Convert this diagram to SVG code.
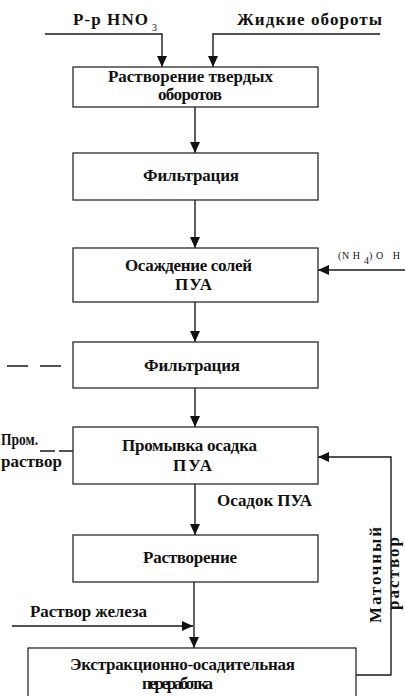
<svg xmlns="http://www.w3.org/2000/svg" width="405" height="696" viewBox="0 0 405 696">
<style>
.box{fill:#fff;stroke:#2a2a2a;stroke-width:1.3}
.t{font-family:"Liberation Serif","Times New Roman",serif;font-weight:bold;font-size:17px;fill:#111}
.s{font-family:"Liberation Serif","Times New Roman",serif;font-size:10px;fill:#111}
.c{fill:none;stroke:#1a1a1a;stroke-width:1.4}
.d{fill:none;stroke:#1a1a1a;stroke-width:1.4}
</style>
<defs>
<marker id="ah" markerUnits="userSpaceOnUse" markerWidth="11" markerHeight="10" refX="11" refY="5" orient="auto">
<path d="M0,0 L11,5 L0,10 z" fill="#111"/>
</marker>
</defs>
<rect width="405" height="696" fill="#fff"/>
<g id="connectors">
<polyline class="c" points="45,34 162,34 162,67" marker-end="url(#ah)"/>
<polyline class="c" points="380,34 213,34 213,67" marker-end="url(#ah)"/>
<line class="c" x1="195" y1="107" x2="195" y2="153" marker-end="url(#ah)"/>
<line class="c" x1="195" y1="200" x2="195" y2="248" marker-end="url(#ah)"/>
<line class="c" x1="405" y1="270" x2="318" y2="270" marker-end="url(#ah)"/>
<line class="c" x1="195" y1="302" x2="195" y2="342" marker-end="url(#ah)"/>
<line class="c" x1="195" y1="388" x2="195" y2="427" marker-end="url(#ah)"/>
<line class="c" x1="195" y1="484" x2="195" y2="535" marker-end="url(#ah)"/>
<line class="c" x1="194" y1="582" x2="194" y2="648" marker-end="url(#ah)"/>
<line class="c" x1="12" y1="626" x2="193" y2="626" marker-end="url(#ah)"/>
<polyline class="c" points="356,675 391,675 391,457 318,457" marker-end="url(#ah)"/>
<line class="d" x1="7" y1="366" x2="62" y2="366" stroke-dasharray="21 12"/>
<line class="d" x1="40" y1="451" x2="73" y2="451" stroke-dasharray="15 4 14 0"/>
</g>
<g id="labels">
<text class="t" x="73" y="25" textLength="75" lengthAdjust="spacing">Р-р HNO</text>
<text class="s" x="152" y="31" font-size="8">3</text>
<text class="t" x="237" y="25" textLength="145" lengthAdjust="spacing">Жидкие обороты</text>
<text class="s" x="338" y="259" textLength="22" lengthAdjust="spacing">(N H</text>
<text class="s" x="364" y="264" font-size="7">4</text>
<text class="s" x="369" y="259" textLength="31" lengthAdjust="spacing">)O H</text>
<text class="t" x="213" y="291" textLength="47" lengthAdjust="spacing">Пульпа</text>
<text class="t" x="1" y="445" font-size="15" textLength="37" lengthAdjust="spacingAndGlyphs">Пром.</text>
<text class="t" x="1" y="467" font-size="15">раствор</text>
<text class="t" x="217" y="506" textLength="95" lengthAdjust="spacing">Осадок ПУА</text>
<text class="t" x="30" y="617" textLength="117" lengthAdjust="spacing">Раствор железа</text>
<text class="t" transform="translate(381,623) rotate(-90)" x="0" y="0" textLength="96" lengthAdjust="spacing">Маточный</text>
<text class="t" transform="translate(399,610) rotate(-90)" x="0" y="0" textLength="73" lengthAdjust="spacing">раствор</text>
</g>
<g id="n1">
<rect class="box" x="73" y="67" width="245" height="40"/>
<text class="t" x="108" y="82" textLength="165" lengthAdjust="spacing">Растворение твердых</text>
<text class="t" x="158" y="100" textLength="64" lengthAdjust="spacing">оборотов</text>
</g>
<g id="n2">
<rect class="box" x="73" y="153" width="245" height="47"/>
<text class="t" x="143" y="181" textLength="96" lengthAdjust="spacing">Фильтрация</text>
</g>
<g id="n3">
<rect class="box" x="73" y="248" width="245" height="54"/>
<text class="t" x="125" y="271" textLength="127" lengthAdjust="spacing">Осаждение солей</text>
<text class="t" x="175" y="290" textLength="37" lengthAdjust="spacing">ПУА</text>
</g>
<g id="n4">
<rect class="box" x="73" y="342" width="245" height="46"/>
<text class="t" x="144" y="371" textLength="96" lengthAdjust="spacing">Фильтрация</text>
</g>
<g id="n5">
<rect class="box" x="73" y="427" width="245" height="57"/>
<text class="t" x="122" y="451" textLength="135" lengthAdjust="spacing">Промывка осадка</text>
<text class="t" x="173" y="471" textLength="39" lengthAdjust="spacing">ПУА</text>
</g>
<g id="n6">
<rect class="box" x="73" y="535" width="245" height="47"/>
<text class="t" x="143" y="563" textLength="94" lengthAdjust="spacing">Растворение</text>
</g>
<g id="n7">
<rect class="box" x="28" y="648" width="328" height="62"/>
<text class="t" x="70" y="670" textLength="225" lengthAdjust="spacing">Экстракционно-осадительная</text>
<text class="t" x="142" y="689" textLength="71" lengthAdjust="spacing">переработка</text>
</g>
</svg>
